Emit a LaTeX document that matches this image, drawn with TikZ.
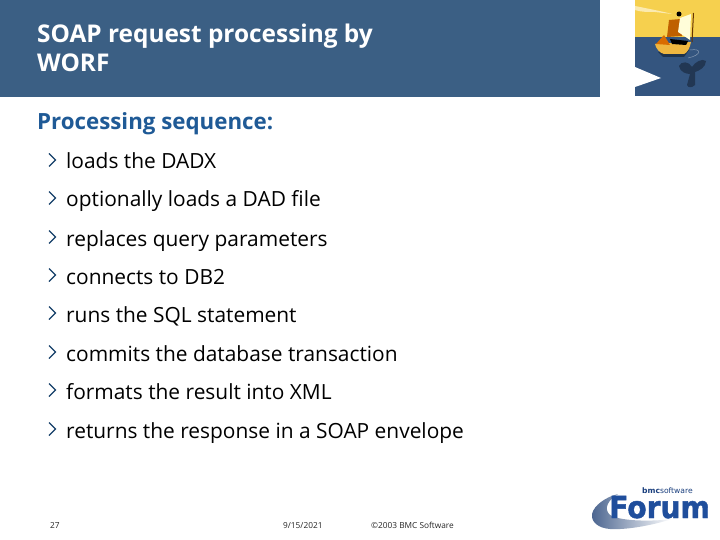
\documentclass[tikz,border=0pt]{standalone}
\usepackage{fontspec}
\setmainfont{Open Sans}
\newfontfamily\forumfont[FakeBold=1.5]{DejaVu Sans Bold}
\newfontfamily\bmcfont{DejaVu Sans}
\usetikzlibrary{shadings}
\definecolor{bannerblue}{HTML}{3B5F84}
\definecolor{headblue}{HTML}{1F5A96}
\definecolor{sunyellow}{HTML}{F6D04E}
\definecolor{seablue}{HTML}{34557F}
\definecolor{logoblue}{HTML}{1F4E9C}
\definecolor{hullyellow}{HTML}{EFB740}
\tikzset{
  item/.style={anchor=base west,inner sep=0pt,font=\fontsize{20.9}{24}\selectfont,text=black},
  chev/.style={draw=headblue!70!black,line width=1.3pt,line join=miter},
  foot/.style={anchor=base west,inner sep=0pt,font=\fontsize{8.3}{10}\selectfont,text=black!85},
}
\newcommand{\chevat}[1]{\draw[chev] (49,#1-6.5) -- (55.5,#1) -- (49,#1+6.5);}
\begin{document}
\begin{tikzpicture}[x=1pt,y=-1pt]
\useasboundingbox (0,0) rectangle (720,540);
\fill[white] (0,0) rectangle (720,540);
% banner
\fill[bannerblue] (0,0) rectangle (600,97);
\node[anchor=base west,inner sep=0pt,text=white,font=\fontsize{24.4}{28}\selectfont\bfseries] (t1) at (37,43) {SOAP request processing by};
\node[anchor=base west,inner sep=0pt,text=white,font=\fontsize{24.4}{28}\selectfont\bfseries] (t2) at (37,72) {WORF};
% picture
\fill[sunyellow] (635,0) rectangle (720,37.5);
\fill[seablue] (635,37.5) rectangle (720,96);
\fill[white] (635,67) -- (661,78) -- (635,87) -- cycle;
\fill[white!55!sunyellow] (635,6) .. controls (650,9) and (665,12) .. (672,14) -- (655,12) .. controls (648,12) and (640,12) .. (635,10) -- cycle;
% propeller
\fill[seablue!65!black] (679,66) .. controls (681,61) and (689,61) .. (692,67) .. controls (695,62) and (702,58) .. (706,61) .. controls (706,67) and (699,71) .. (695,72) -- (695,85) .. controls (692,88) and (688,88) .. (687,85) -- (690,74) .. controls (686,74) and (680,72) .. (679,66) -- cycle;
\draw[seablue!60!white,line width=.5pt] (690,50) .. controls (702,48) and (702,55) .. (688,58);
% boat
\fill[seablue!60!black] (658,52) -- (689,50) -- (684,57) -- (663,57) -- cycle;
\fill[hullyellow] (655,44) -- (691,42) .. controls (690,48) and (687,53) .. (684,54) -- (664,54) .. controls (660,53) and (656,49) .. (655,44) -- cycle;
\fill[orange!85!black] (656,44) -- (664,35) -- (670,45) -- cycle;
\fill[black!25!orange] (669,20) -- (681,19) -- (682,36) -- (667,37) -- cycle;
\fill[yellow!15!white] (680,18) -- (691,14) -- (690,40) -- (678,32) -- cycle;
\fill[black] (670,39) -- (688,41) -- (686,45) -- (672,44) -- cycle;
\fill[black] (679,14) circle (2.5);
\draw[black!60!orange,line width=1pt] (693.5,13) -- (692,42);
% heading
\node[anchor=base west,inner sep=0pt,text=headblue,font=\fontsize{22.3}{24}\selectfont\bfseries] (h) at (37,130) {Processing sequence:};
% items
\foreach \n/\y/\s in {a/169/loads the DADX,b/207/optionally loads a DAD file,c/246/replaces query parameters,d/284/connects to DB2,e/322/runs the SQL statement,f/361/commits the database transaction,g/399/formats the result into XML,h/438/returns the response in a SOAP envelope}{
  \node[item] (\n) at (66,\y) {\s};
  \chevat{\y-9}
}
% footer
\node[foot] (f1) at (50,528) {27};
\node[foot] (f2) at (283,528) {9/15/2021};
\node[foot] (f3) at (371,528) {©2003 BMC Software};
% logo
\shade[left color=logoblue!55!gray,right color=white] (592,514) .. controls (594,505) and (606,497) .. (618,494) .. controls (608,500) and (604,508) .. (609,514) .. controls (616,521) and (650,522) .. (672,519) .. controls (650,526) and (625,530) .. (610,529) .. controls (598,528) and (591,522) .. (592,514) -- cycle;
\node[anchor=base west,inner sep=0pt,text=logoblue] (logo) at (609,518) {\forumfont\fontsize{32}{32}\selectfont\scalebox{.88}[.95]{Forum}};
\node[anchor=base west,inner sep=0pt,text=logoblue!80!black] (bmc) at (642,493.5) {\bmcfont\fontsize{7.6}{8}\selectfont\textbf{bmc}software};
\end{tikzpicture}
\end{document}
